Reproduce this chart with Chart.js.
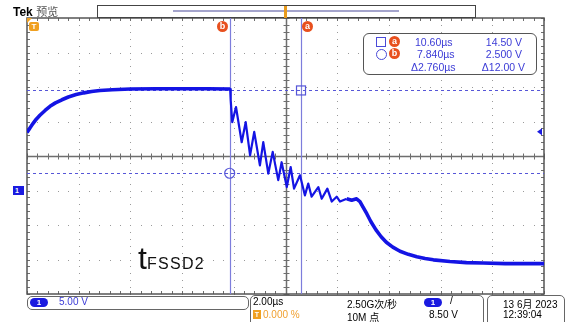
<!DOCTYPE html>
<html>
<head>
<meta charset="utf-8">
<script src="https://cdn.jsdelivr.net/npm/chart.js@4"></script>
<style>
  body { margin: 0; background: #fff; }
  #wrap { position: relative; width: 566px; height: 322px; overflow: hidden; font-family: "Liberation Sans", Arial, sans-serif; }
  #scope { position: absolute; left: 0; top: 0; }
  .abs { position: absolute; white-space: nowrap; }
  .blue { color: #3b3bd6; }
  .mk { position: absolute; width: 11px; height: 11px; border-radius: 50%; background: #e8501e;
        color: #fff; font: bold 9px "Liberation Sans", sans-serif; text-align: center; line-height: 11px; }
  .box { position: absolute; border: 1px solid #666; border-radius: 5px; background: #fff; }
  .pill { position: absolute; width: 18px; height: 9px; border-radius: 5px; background: #1a1ae0;
          color: #fff; font: bold 8px "Liberation Sans", sans-serif; text-align: center; line-height: 9px; }
</style>
</head>
<body>
<div id="wrap">
  <canvas id="scope" width="566" height="322"></canvas>

  <!-- top bar -->
  <div class="abs" style="left:13px;top:3px;font-size:12px;"><b>Tek</b> <span style="color:#555;font-family:'Noto Sans CJK SC';font-size:11px;">预览</span></div>
  <div class="abs" style="left:97px;top:5px;width:377px;height:11px;border:1px solid #444;background:#fff;"></div>
  <div class="abs" style="left:173px;top:10px;width:226px;height:2px;background:#a4a4cc;"></div>
  <div class="abs" style="left:284px;top:6px;width:3px;height:12px;background:#e89a1c;"></div>

  <!-- cursor tags -->
  <div class="mk" style="left:217px;top:21px;">b</div>
  <div class="mk" style="left:302px;top:21px;">a</div>
  <div class="abs" style="left:29px;top:22px;width:10px;height:9px;background:#f0a020;border-radius:2px;color:#fff;font:bold 8px 'Liberation Sans';text-align:center;line-height:9px;">T</div>

  <!-- ground marker -->
  <div class="abs" style="left:13px;top:186px;width:11px;height:9px;background:#1a1ae0;color:#fff;font:bold 7px 'Liberation Sans';line-height:9px;padding-left:2px;box-sizing:border-box;">1</div>

  <!-- cursor readout -->
  <div class="box" style="left:363px;top:33px;width:172px;height:40px;border-color:#555;border-radius:6px;"></div>
  <div class="abs" style="left:376px;top:37px;width:8px;height:8px;border:1px solid #4a4ad8;"></div>
  <div class="abs" style="left:376px;top:49px;width:9px;height:9px;border:1px solid #4a4ad8;border-radius:50%;"></div>
  <div class="mk" style="left:389px;top:36px;">a</div>
  <div class="mk" style="left:389px;top:48px;">b</div>
  <div class="abs blue" style="left:415px;top:36px;font-size:10.5px;">10.60µs</div>
  <div class="abs blue" style="left:417px;top:48px;font-size:10.5px;">7.840µs</div>
  <div class="abs blue" style="left:411px;top:61px;font-size:10.5px;">Δ2.760µs</div>
  <div class="abs blue" style="right:44px;top:36px;font-size:10.5px;">14.50 V</div>
  <div class="abs blue" style="right:44px;top:48px;font-size:10.5px;">2.500 V</div>
  <div class="abs blue" style="right:41px;top:61px;font-size:10.5px;">Δ12.00 V</div>

  <!-- annotation -->
  <div class="abs" style="left:138px;top:240px;font-family:'Liberation Sans';color:#111;">
    <span style="font-size:32px;">t</span><span style="font-size:16px;letter-spacing:1.3px;">FSSD2</span>
  </div>

  <!-- bottom status -->
  <div class="box" style="left:27px;top:296px;width:220px;height:12px;"></div>
  <div class="pill" style="left:30px;top:298px;">1</div>
  <div class="abs blue" style="left:59px;top:296px;font-size:10px;">5.00 V</div>

  <div class="box" style="left:250px;top:295px;width:232px;height:32px;"></div>
  <div class="abs" style="left:253px;top:296px;font-size:10px;">2.00µs</div>
  <div class="abs" style="left:253px;top:310px;width:8px;height:9px;background:#f0a020;color:#fff;font:bold 7px 'Liberation Sans';text-align:center;line-height:9px;">T</div>
  <div class="abs" style="left:263px;top:309px;font-size:10px;color:#f0a030;">0.000 %</div>
  <div class="abs" style="left:347px;top:296px;font-size:10px;font-family:'Liberation Sans','Noto Sans CJK SC';">2.50G次/秒</div>
  <div class="abs" style="left:347px;top:309px;font-size:10px;font-family:'Liberation Sans','Noto Sans CJK SC';">10M 点</div>
  <div class="pill" style="left:424px;top:298px;">1</div>
  <div class="abs" style="left:450px;top:295px;font-size:10px;">/</div>
  <div class="abs" style="left:429px;top:309px;font-size:10px;">8.50 V</div>

  <div class="box" style="left:487px;top:295px;width:76px;height:32px;"></div>
  <div class="abs" style="left:503px;top:296px;font-size:10px;font-family:'Liberation Sans','Noto Sans CJK SC';">13 6月 2023</div>
  <div class="abs" style="left:503px;top:309px;font-size:10px;">12:39:04</div>
</div>

<script>
// waveform (time in µs, voltage in V)
const timeUs = [
  0, 0.12, 0.23, 0.35, 0.5, 0.7, 0.89, 1.1, 1.35, 1.6, 1.9, 2.2, 2.5, 2.82, 3.3, 4.0, 5.0, 6.0, 7.0, 7.86,
  7.88, 7.94, 8.085, 8.305, 8.46, 8.63, 8.79, 9.01, 9.14, 9.335, 9.505, 9.72, 9.85,
  10.05, 10.2, 10.33, 10.56, 10.75, 10.88, 11.01, 11.27, 11.40, 11.62, 11.79, 11.98,
  12.11, 12.37, 12.56, 12.75, 12.88, 13.0, 13.15, 13.3, 13.5, 13.7, 13.9, 14.15, 14.43,
  14.75, 15.08, 15.4, 15.72, 16.36, 17.0, 17.65, 18.5, 19.3, 20.0
];
const volts = [
  8.4, 9.1, 9.7, 10.3, 10.9, 11.6, 12.2, 12.7, 13.15, 13.55, 13.9, 14.15, 14.35, 14.5, 14.6, 14.7, 14.75, 14.75, 14.75, 14.7,
  13.1, 9.9, 12.1, 7.0, 9.9, 5.1, 8.5, 3.65, 7.0, 2.45, 5.6, 1.5, 4.1,
  0.5, 3.4, 0.27, 2.2, -0.7, 1.0, -0.9, 0.5, -1.2, 0.27, -1.6, -0.9,
  -1.6, -1.2, -1.4, -1.2, -1.6, -2.4, -3.4, -4.5, -5.7, -6.7, -7.5, -8.2, -8.8,
  -9.25, -9.6, -9.85, -10.05, -10.3, -10.45, -10.5, -10.6, -10.6, -10.6
];

// screen settings
const timeRange = [0, 20];        // 2.00 µs/div, 10 div
const voltRange = [-15, 25];      // 5.00 V/div, 8 div
const cursorTimes = [7.84, 10.60];
const cursorVolts = [2.5, 14.5];
const triggerLevel = 8.5;

const scopeGrid = {
  id: "scopeGrid",
  beforeDatasetsDraw(chart) {
    const ctx = chart.ctx;
    const xs = chart.scales.x;
    const ys = chart.scales.y;
    const a = chart.chartArea;
    ctx.save();

    // dotted grid
    ctx.fillStyle = "#9a9a9a";
    for (let t = 2; t < 20; t += 2) {
      if (t === 10) continue;
      const px = Math.round(xs.getPixelForValue(t));
      for (let v = -15; v <= 25; v += 1) {
        ctx.fillRect(px, Math.round(ys.getPixelForValue(v)), 1, 1);
      }
    }
    for (let v = -10; v < 25; v += 5) {
      if (v === 5) continue;
      const py = Math.round(ys.getPixelForValue(v));
      for (let t = 0; t <= 20.001; t += 0.4) {
        ctx.fillRect(Math.round(xs.getPixelForValue(t)), py, 1, 1);
      }
    }

    // centre cross with ticks
    ctx.strokeStyle = "#6e6e6e";
    ctx.lineWidth = 1.5;
    const cx = Math.round(xs.getPixelForValue(10)) + 0.5;
    const cy = Math.round(ys.getPixelForValue(5)) + 0.5;
    ctx.beginPath();
    ctx.moveTo(cx, a.top); ctx.lineTo(cx, a.bottom);
    ctx.moveTo(a.left, cy); ctx.lineTo(a.right, cy);
    ctx.stroke();
    ctx.lineWidth = 1;
    ctx.beginPath();
    for (let v = -15; v <= 25; v += 1) {
      const py = Math.round(ys.getPixelForValue(v)) + 0.5;
      ctx.moveTo(cx - 3, py); ctx.lineTo(cx + 3, py);
      ctx.moveTo(a.left, py); ctx.lineTo(a.left + 3, py);
      ctx.moveTo(a.right - 3, py); ctx.lineTo(a.right, py);
    }
    for (let t = 0; t <= 20.001; t += 0.4) {
      const px = Math.round(xs.getPixelForValue(t)) + 0.5;
      ctx.moveTo(px, cy - 3); ctx.lineTo(px, cy + 3);
      ctx.moveTo(px, a.top); ctx.lineTo(px, a.top + 3);
      ctx.moveTo(px, a.bottom - 3); ctx.lineTo(px, a.bottom);
    }
    ctx.stroke();

    // frame
    ctx.strokeStyle = "#555";
    ctx.lineWidth = 1.5;
    ctx.strokeRect(a.left, a.top, a.right - a.left, a.bottom - a.top);

    // horizontal cursors
    ctx.strokeStyle = "#5656d8";
    ctx.lineWidth = 1;
    ctx.setLineDash([3, 3]);
    ctx.beginPath();
    cursorVolts.forEach(v => {
      const py = Math.round(ys.getPixelForValue(v)) + 0.5;
      ctx.moveTo(a.left, py); ctx.lineTo(a.right, py);
    });
    ctx.stroke();
    ctx.setLineDash([]);

    // vertical cursors
    ctx.strokeStyle = "#7d7ddc";
    ctx.lineWidth = 1.2;
    ctx.beginPath();
    cursorTimes.forEach(t => {
      const px = Math.round(xs.getPixelForValue(t)) + 0.5;
      ctx.moveTo(px, a.top); ctx.lineTo(px, a.bottom);
    });
    ctx.stroke();

    // cursor intersection markers
    ctx.strokeStyle = "#5656d8";
    const bx = xs.getPixelForValue(cursorTimes[0]);
    const by = ys.getPixelForValue(cursorVolts[0]);
    ctx.beginPath();
    ctx.arc(bx, by, 5, 0, Math.PI * 2);
    ctx.stroke();
    const ax = xs.getPixelForValue(cursorTimes[1]);
    const ay = ys.getPixelForValue(cursorVolts[1]);
    ctx.strokeRect(ax - 4.5, ay - 4.5, 9, 9);

    // trigger level marker
    const ty = ys.getPixelForValue(triggerLevel);
    ctx.fillStyle = "#1a1ae0";
    ctx.beginPath();
    ctx.moveTo(a.right - 7, ty);
    ctx.lineTo(a.right - 2, ty - 3.5);
    ctx.lineTo(a.right - 2, ty + 3.5);
    ctx.closePath();
    ctx.fill();

    // trigger position marker
    ctx.fillStyle = "#f0a020";
    ctx.beginPath();
    ctx.moveTo(a.left, a.top);
    ctx.lineTo(a.left + 5, a.top);
    ctx.lineTo(a.left, a.top + 5);
    ctx.closePath();
    ctx.fill();

    ctx.restore();
  }
};

new Chart(document.getElementById("scope"), {
  type: "line",
  data: {
    labels: timeUs,
    datasets: [{
      data: timeUs.map((t, i) => ({ x: t, y: volts[i] })),
      borderColor: "#1414e4",
      borderWidth: 2.2,
      pointRadius: 0,
      tension: 0,
      borderJoinStyle: "round",
      segment: {
        borderWidth: c => (c.p0.parsed.x < 7.8 || c.p0.parsed.x > 12.3) ? 3.6 : 2.2
      }
    }]
  },
  options: {
    responsive: false,
    animation: false,
    devicePixelRatio: 1,
    layout: { padding: { left: 27, top: 18, right: 22, bottom: 28 } },
    plugins: { legend: { display: false }, tooltip: { enabled: false } },
    scales: {
      x: { type: "linear", min: timeRange[0], max: timeRange[1], display: false },
      y: { type: "linear", min: voltRange[0], max: voltRange[1], display: false }
    }
  },
  plugins: [scopeGrid]
});
</script>
</body>
</html>
